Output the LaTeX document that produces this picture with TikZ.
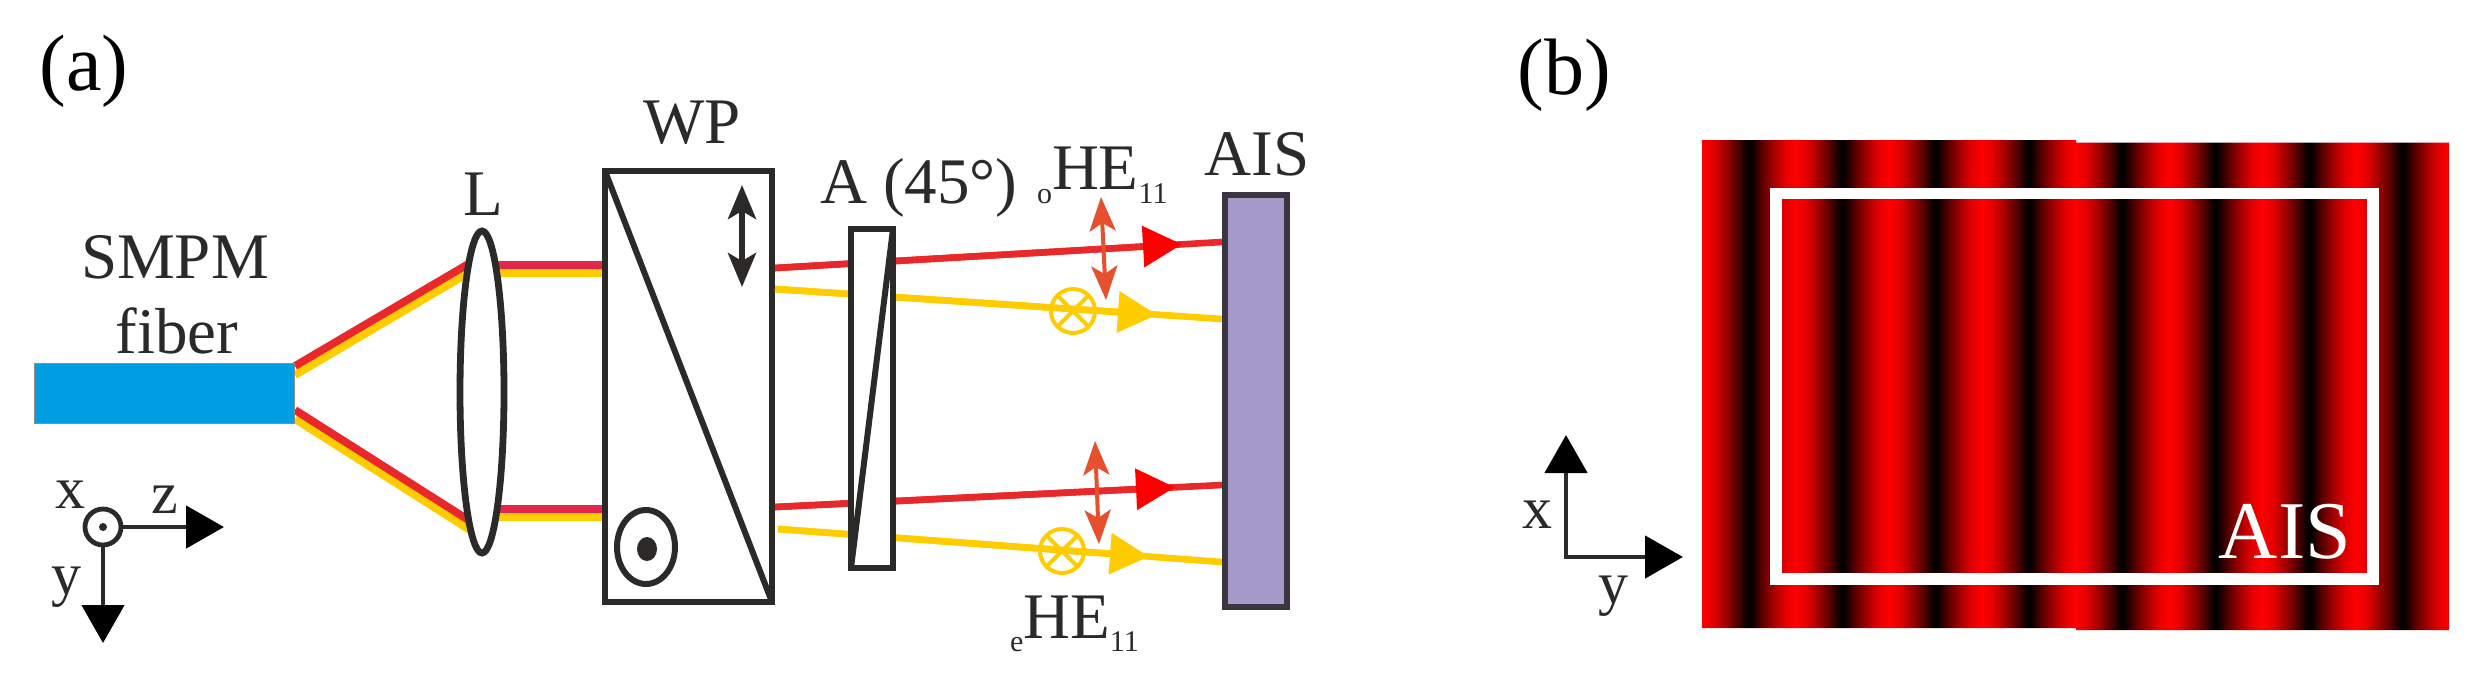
\documentclass[tikz,border=0pt]{standalone}
\usepackage{fontspec}
\setmainfont{Liberation Serif}
\usetikzlibrary{arrows.meta,shapes.geometric}
\definecolor{ink}{HTML}{2B2A29}
\definecolor{fiberblue}{HTML}{009FE3}
\definecolor{beamred}{HTML}{E5264A}
\definecolor{rayred}{HTML}{E8282B}
\definecolor{tipred}{HTML}{FF0000}
\definecolor{beamyellow}{HTML}{FFCC00}
\definecolor{polorange}{HTML}{E6502E}
\definecolor{screenfill}{HTML}{A59ACA}
\definecolor{screenedge}{HTML}{3A3640}
\pgfdeclarehorizontalshading{fringe}{100bp}{rgb(0bp)=(1,0,0); rgb(25bp)=(1,0,0); rgb(31.25bp)=(.88,0,0); rgb(37.5bp)=(.62,0,0); rgb(43.75bp)=(.32,0,0); rgb(47.5bp)=(.1,0,0); rgb(50bp)=(0,0,0); rgb(52.5bp)=(.1,0,0); rgb(56.25bp)=(.32,0,0); rgb(62.5bp)=(.62,0,0); rgb(68.75bp)=(.88,0,0); rgb(75bp)=(1,0,0); rgb(100bp)=(1,0,0)}
\newcommand{\lowtext}[2]{\raisebox{#1}{\fontsize{15pt}{16pt}\selectfont #2}}
\tikzset{
  lbl/.style={inner sep=0pt,outer sep=0pt,anchor=base,text=ink,font=\fontsize{32.5pt}{36pt}\selectfont},
  panel/.style={lbl,text=black,font=\fontsize{40pt}{44pt}\selectfont},
  axlbl/.style={lbl,font=\fontsize{30pt}{34pt}\selectfont},
  optic/.style={draw=ink,line width=3.4pt,fill=white,inner sep=0pt,outer sep=0pt},
  beam/.style={line width=3.9pt},
  ray/.style={line width=3.3pt},
  axisline/.style={draw=ink,line width=2.4pt,-{Triangle[length=19pt,width=21pt,color=black]}},
  headyellow/.style={-{Triangle[length=19.5pt,width=20pt]}},
  headred/.style={-{Triangle[length=19.5pt,width=20pt,color=tipred]}},
  polblack/.style={draw=ink,line width=2.8pt,{Stealth[length=17pt,width=14pt,inset=4pt]}-{Stealth[length=17pt,width=14pt,inset=4pt]}},
  polor/.style={draw=polorange,line width=2pt,{Stealth[length=17pt,width=13pt,inset=4pt]}-{Stealth[length=17pt,width=13pt,inset=4pt]}},
  crossc/.style={circle,draw=beamyellow,line width=2pt,minimum size=22pt,inner sep=0pt,outer sep=0pt}
}
\begin{document}
\begin{tikzpicture}[x=0.5pt,y=-0.5pt]
\useasboundingbox[fill=white] (0,0) rectangle (2488,687);
% panel labels
\node[panel] (pa) at (84,90) {(a)};
\node[panel] (pb) at (1564,94) {(b)};
% beam end points
\coordinate (ru1) at (295,366); \coordinate (ru2) at (470,263);
\coordinate (yu1) at (295,375); \coordinate (yu2) at (470,272);
\coordinate (rl1) at (295,410); \coordinate (rl2) at (470,521);
\coordinate (yl1) at (295,419); \coordinate (yl2) at (470,530);
\coordinate (ru3) at (490,265); \coordinate (ru4) at (606,265);
\coordinate (yu3) at (490,273); \coordinate (yu4) at (606,273);
\coordinate (rl3) at (490,509); \coordinate (rl4) at (606,509);
\coordinate (yl3) at (490,517); \coordinate (yl4) at (606,517);
\draw[beam,beamyellow] (yu1) -- (yu2);
\draw[beam,rayred] (ru1) -- (ru2);
\draw[beam,beamyellow] (yl1) -- (yl2);
\draw[beam,rayred] (rl1) -- (rl2);
\draw[beam,beamyellow] (yu3) -- (yu4);
\draw[beam,beamred] (ru3) -- (ru4);
\draw[beam,beamyellow] (yl3) -- (yl4);
\draw[beam,beamred] (rl3) -- (rl4);
% fibre
\node[draw=black!45,line width=0.5pt,fill=fiberblue,minimum width=130pt,minimum height=30pt,inner sep=0pt,outer sep=0pt] (fiber) at (164.5,393) {};
\node[lbl] (smpm) at (175,278) {SMPM};
\node[lbl] (fibertxt) at (177,353) {fiber};
% lens
\node[optic,ellipse,minimum width=22pt,minimum height=161pt] (lens) at (482,392) {};
\node[lbl] (ltxt) at (483,215) {L};
% Wollaston prism
\node[optic,minimum width=83.5pt,minimum height=215.5pt] (wp) at (688.5,386.5) {};
\draw[ink,line width=3pt] (wp.north west) -- (wp.south east);
\node[lbl] (wptxt) at (692,143) {WP};
\coordinate (wpa) at (742,185); \coordinate (wpb) at (742,287);
\draw[polblack] (wpa) -- (wpb);
\node[ellipse,draw=ink,line width=3pt,minimum width=29pt,minimum height=37pt,inner sep=0pt] (wpo) at (646,547) {};
\node[ellipse,fill=ink,minimum width=10pt,minimum height=12pt,inner sep=0pt] (wpd) at (647,549) {};
% rays
\coordinate (r1a) at (775,268); \coordinate (r1t) at (1182,244.3); \coordinate (r1b) at (1222,242);
\coordinate (y1a) at (775,289); \coordinate (y1t) at (1157,314.7); \coordinate (y1b) at (1222,319);
\coordinate (r2a) at (775,507); \coordinate (r2t) at (1175,487.3); \coordinate (r2b) at (1222,485);
\coordinate (y2a) at (778,529); \coordinate (y2t) at (1149,556.6); \coordinate (y2b) at (1222,562);
\draw[ray,rayred] (r1a) -- (r1b);
\draw[ray,rayred,headred] (r1a) -- (r1t);
\draw[ray,beamyellow] (y1a) -- (y1b);
\draw[ray,beamyellow,headyellow] (y1a) -- (y1t);
\draw[ray,rayred] (r2a) -- (r2b);
\draw[ray,rayred,headred] (r2a) -- (r2t);
\draw[ray,beamyellow] (y2a) -- (y2b);
\draw[ray,beamyellow,headyellow] (y2a) -- (y2t);
% analyser
\node[optic,minimum width=21pt,minimum height=169.5pt] (ana) at (872,398.5) {};
\draw[ink,line width=3pt] (ana.north east) -- (ana.south west);
\node[lbl,anchor=base west] (anatxt) at (820,203) {A (45°)};
% polarisation marks
\node[crossc] (c1) at (1073,311) {};
\draw[beamyellow,line width=2pt] (c1.45) -- (c1.225) (c1.135) -- (c1.315);
\node[crossc] (c2) at (1062,551) {};
\draw[beamyellow,line width=2pt] (c2.45) -- (c2.225) (c2.135) -- (c2.315);
\coordinate (o1a) at (1101,197); \coordinate (o1b) at (1106,300);
\coordinate (o2a) at (1095,441); \coordinate (o2b) at (1099,544);
\draw[polor] (o1a) -- (o1b);
\draw[polor] (o2a) -- (o2b);
\node[lbl,anchor=base west] (ohe) at (1037,189) {\lowtext{-7pt}{o}HE\lowtext{-7pt}{11}};
\node[lbl,anchor=base west] (ehe) at (1010,638) {\lowtext{-6.5pt}{e}HE\lowtext{-6.5pt}{11}};
% screen
\node[draw=screenedge,line width=3pt,fill=screenfill,minimum width=31pt,minimum height=206pt,inner sep=0pt,outer sep=0pt] (ais) at (1256,401) {};
\node[lbl] (aistxt) at (1257,175) {AIS};
% axes of panel a
\node[circle,draw=ink,line width=2.4pt,fill=white,minimum size=18pt,inner sep=0pt] (axo) at (103,527) {};
\node[circle,fill=ink,minimum size=4pt,inner sep=0pt] (axd) at (103,527) {};
\coordinate (az) at (224,527); \coordinate (ay) at (103,643);
\draw[axisline] (axo) -- (az);
\draw[axisline] (axo) -- (ay);
\node[axlbl] (ax) at (70,508) {x};
\node[axlbl] (azt) at (165,513) {z};
\node[axlbl] (ayt) at (66,594) {y};
% fringe panel
\begin{scope}
\clip (1702,140) -- (2076,140) -- (2076,142.5) -- (2449,142.5) -- (2449,630) -- (2076,630) -- (2076,628) -- (1702,628) -- cycle;
\foreach \i in {0,...,7}{
  \pgfmathsetmacro{\xa}{1702+93.375*\i}
  \pgfmathsetmacro{\xb}{1702+93.375*(\i+1)+0.4}
  \shade[shading=fringe] (\xa,130) rectangle (\xb,640);
}
\end{scope}
\node[draw=white,line width=5.8pt,minimum width=298.5pt,minimum height=192.75pt,inner sep=0pt,outer sep=0pt] (aisframe) at (2074.5,386.25) {};
\node[lbl,text=white,font=\fontsize{41pt}{44pt}\selectfont] (aisw) at (2285,558) {AIS};
% axes of panel b
\coordinate (bo) at (1566,557); \coordinate (bx) at (1566,435); \coordinate (by) at (1683,557);
\draw[axisline,line cap=rect] (bo) -- (bx);
\draw[axisline,line cap=rect] (bo) -- (by);
\node[axlbl] (bxt) at (1537,528) {x};
\node[axlbl] (byt) at (1613,603) {y};
\end{tikzpicture}
\end{document}
